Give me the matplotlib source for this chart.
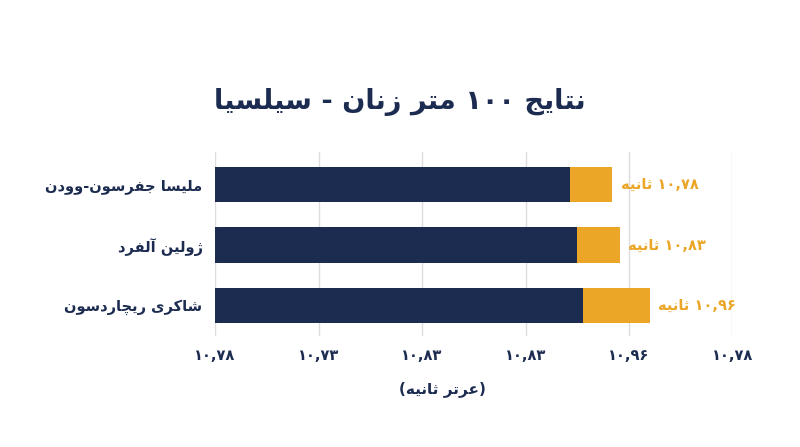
import matplotlib
matplotlib.use("Agg")
import matplotlib.pyplot as plt

# ---------------- data ----------------
title_text = "نتایج ۱۰۰ متر زنان - سیلسیا"
athletes = ["ملیسا جفرسون-وودن", "ژولین آلفرد", "شاکری ریچاردسون"]
base_values = [3.43, 3.50, 3.56]      # navy segment (axis units)
extra_values = [0.41, 0.41, 0.64]     # orange segment (axis units)
value_labels = ["۱۰,۷۸ ثانیه", "۱۰,۸۳ ثانیه", "۱۰,۹۶ ثانیه"]
tick_positions = [0, 1, 2, 3, 4, 5]
tick_labels = ["۱۰,۷۸", "۱۰,۷۳", "۱۰,۸۳", "۱۰,۸۳", "۱۰,۹۶", "۱۰,۷۸"]
x_label = "(عرتر ثانیه)"

NAVY = "#1c2b50"
ORANGE = "#eba628"
GRID = "#dcdcdc"

# ---------------- minimal Arabic/Persian shaping + bidi ----------------
# letter: (isolated, final, initial, medial) ; None initial => right-joining only
FORMS = {
    "\u0627": ("\uFE8D", "\uFE8E", None, None),
    "\u0622": ("\uFE81", "\uFE82", None, None),
    "\u062A": ("\uFE95", "\uFE96", "\uFE97", "\uFE98"),
    "\u062B": ("\uFE99", "\uFE9A", "\uFE9B", "\uFE9C"),
    "\u062C": ("\uFE9D", "\uFE9E", "\uFE9F", "\uFEA0"),
    "\u062F": ("\uFEA9", "\uFEAA", None, None),
    "\u0631": ("\uFEAD", "\uFEAE", None, None),
    "\u0632": ("\uFEAF", "\uFEB0", None, None),
    "\u0698": ("\uFB8A", "\uFB8B", None, None),
    "\u0633": ("\uFEB1", "\uFEB2", "\uFEB3", "\uFEB4"),
    "\u0634": ("\uFEB5", "\uFEB6", "\uFEB7", "\uFEB8"),
    "\u0639": ("\uFEC9", "\uFECA", "\uFECB", "\uFECC"),
    "\u0641": ("\uFED1", "\uFED2", "\uFED3", "\uFED4"),
    "\u06A9": ("\uFB8E", "\uFB8F", "\uFB90", "\uFB91"),
    "\u0644": ("\uFEDD", "\uFEDE", "\uFEDF", "\uFEE0"),
    "\u0645": ("\uFEE1", "\uFEE2", "\uFEE3", "\uFEE4"),
    "\u0646": ("\uFEE5", "\uFEE6", "\uFEE7", "\uFEE8"),
    "\u0647": ("\uFEE9", "\uFEEA", "\uFEEB", "\uFEEC"),
    "\u0648": ("\uFEED", "\uFEEE", None, None),
    "\u06CC": ("\uFBFC", "\uFBFD", "\uFBFE", "\uFBFF"),
    "\u0686": ("\uFB7A", "\uFB7B", "\uFB7C", "\uFB7D"),
}
MIRROR = {"(": ")", ")": "("}


def shape(s):
    out = []
    n = len(s)
    for i, ch in enumerate(s):
        if ch not in FORMS:
            out.append(ch)
            continue
        iso, fin, ini, med = FORMS[ch]
        prev = s[i - 1] if i > 0 else ""
        nxt = s[i + 1] if i + 1 < n else ""
        pj = prev in FORMS and FORMS[prev][2] is not None
        nj = nxt in FORMS and ini is not None
        if pj and nj:
            out.append(med)
        elif pj:
            out.append(fin)
        elif nj:
            out.append(ini)
        else:
            out.append(iso)
    return "".join(out)


def is_num(c):
    return c.isdigit() or c in ",."


def rtl(s):
    shaped = shape(s)
    tokens = []
    i = 0
    while i < len(shaped):
        c = shaped[i]
        if c.isdigit():
            j = i
            while j < len(shaped) and is_num(shaped[j]):
                j += 1
            tokens.append(shaped[i:j])
            i = j
        else:
            tokens.append(MIRROR.get(c, c))
            i += 1
    return "".join(reversed(tokens))


# ---------------- figure ----------------
plt.rcParams["font.family"] = ["DejaVu Sans"]
fig = plt.figure(figsize=(8, 4.47), dpi=100)
fig.patch.set_facecolor("white")
ax = fig.add_axes([215 / 800, 1 - 336 / 447, 517.5 / 800, 184 / 447])

ypos = list(range(len(athletes)))
ax.barh(ypos, base_values, height=0.59, color=NAVY, zorder=3)
ax.barh(ypos, extra_values, left=base_values, height=0.59, color=ORANGE, zorder=3)

for y, b, e, lab in zip(ypos, base_values, extra_values, value_labels):
    ax.annotate(rtl(lab), xy=(b + e, y), xytext=(6, 0), textcoords="offset points",
                ha="left", va="center", color=ORANGE, fontsize=10.5, fontweight="bold")

ax.set_xlim(0, 5)
ax.set_ylim(2.504, -0.537)
ax.set_xticks(tick_positions)
ax.set_xticklabels([rtl(t) for t in tick_labels], color=NAVY, fontsize=10.5, fontweight="bold")
ax.set_yticks(ypos)
ax.set_yticklabels([rtl(a) for a in athletes], color=NAVY, fontsize=10.5, fontweight="bold")
ax.tick_params(axis="both", length=0)
ax.tick_params(axis="x", pad=9)
ax.tick_params(axis="y", pad=9)
ax.grid(axis="x", color=GRID, linewidth=1, zorder=0)
for sp in ax.spines.values():
    sp.set_visible(False)

ax.set_xlabel(rtl(x_label), color=NAVY, fontsize=11, fontweight="bold")
ax.xaxis.set_label_coords((442 - 215) / 517.5, (336 - 381) / 184)

fig.text(0.5, 1 - 102 / 447, rtl(title_text), ha="center", va="center",
         color=NAVY, fontsize=19.5, fontweight="bold")

fig.savefig("out.png", dpi=100, facecolor="white")
